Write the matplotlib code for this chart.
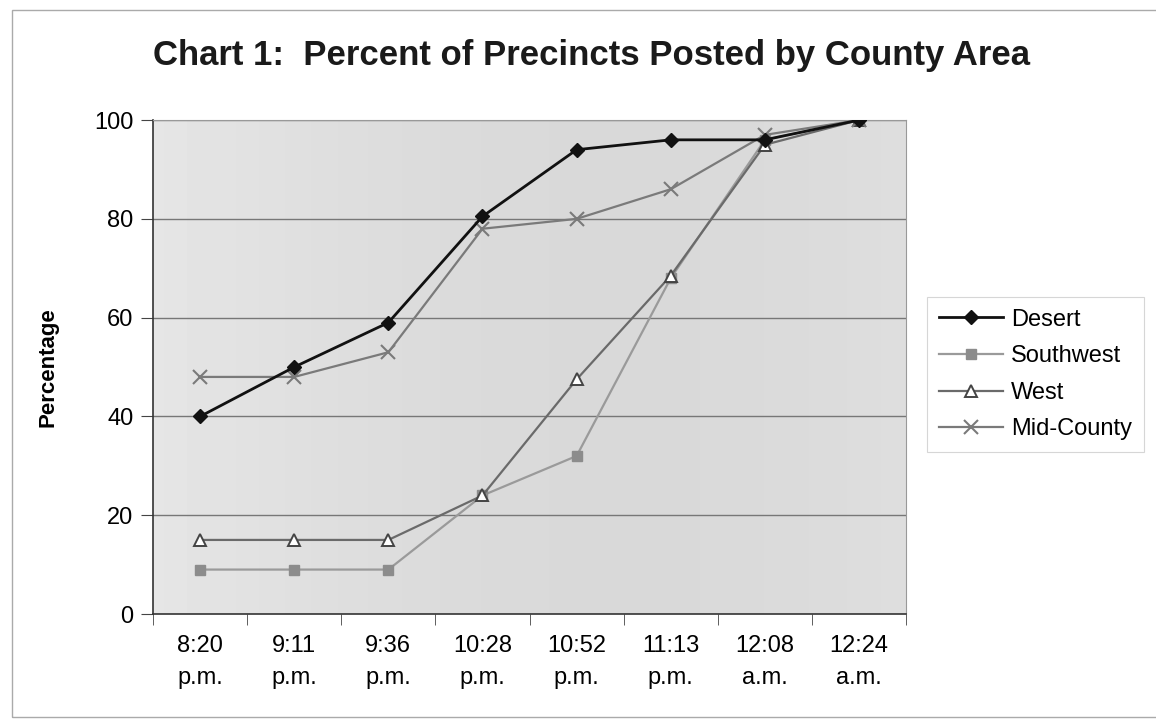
import numpy as np
import matplotlib
matplotlib.use("Agg")
import matplotlib.pyplot as plt

plt.rcParams['font.family'] = ['Liberation Sans', 'DejaVu Sans']

times = ['8:20\np.m.', '9:11\np.m.', '9:36\np.m.', '10:28\np.m.',
         '10:52\np.m.', '11:13\np.m.', '12:08\na.m.', '12:24\na.m.']
desert = [40, 50, 59, 80.5, 94, 96, 96, 100]
southwest = [9, 9, 9, 24, 32, 68, 96, 100]
west = [15, 15, 15, 24, 47.5, 68.5, 95, 100]
mid_county = [48, 48, 53, 78, 80, 86, 97, 100]

fig = plt.figure(figsize=(11.56, 7.19), dpi=100)
ax = fig.add_axes([0.1324, 0.146, 0.6514, 0.687])

x = np.arange(len(times))

# light gray background with a soft left-to-right shading
grad = np.linspace(0, 1, 200)
shade = 0.90 - 0.05 * np.sin(grad * np.pi * 0.8)
ax.imshow(np.tile(shade, (10, 1)), cmap='gray', vmin=0, vmax=1,
          extent=[-0.5, 7.5, 0, 100], aspect='auto', zorder=0)

ax.plot(x, desert, color='#111111', lw=2, marker='D', ms=7,
        mfc='#111111', mec='#111111', label='Desert', zorder=5)
ax.plot(x, southwest, color='#9a9a9a', lw=1.6, marker='s', ms=7,
        mfc='#8c8c8c', mec='#8c8c8c', label='Southwest', zorder=3)
ax.plot(x, west, color='#6a6a6a', lw=1.6, marker='^', ms=9,
        mfc='white', mec='#444444', mew=1.4, label='West', zorder=4)
ax.plot(x, mid_county, color='#7a7a7a', lw=1.6, marker='x', ms=10,
        mew=1.5, label='Mid-County', zorder=4)

ax.set_xlim(-0.5, 7.5)
ax.set_ylim(0, 100)
ax.set_yticks([0, 20, 40, 60, 80, 100])
ax.set_xticks(x)
ax.set_xticklabels(times, fontsize=17, linespacing=1.6)
ax.set_xticks(np.arange(-0.5, 8, 1), minor=True)
ax.tick_params(axis='x', which='major', length=0, pad=15)
ax.tick_params(axis='x', which='minor', length=8, direction='out', color='#444444')
ax.tick_params(axis='y', length=9, direction='out', labelsize=17, pad=5, color='#444444')

for yv in [20, 40, 60, 80, 100]:
    ax.axhline(yv, color='#777777', lw=1, zorder=1)

for side in ['top', 'right']:
    ax.spines[side].set_color('#999999')
for side in ['left', 'bottom']:
    ax.spines[side].set_color('#333333')
    ax.spines[side].set_linewidth(1.2)

ax.set_ylabel('Percentage', fontsize=16, fontweight='bold', labelpad=26)

fig.text(0.512, 0.923, 'Chart 1:  Percent of Precincts Posted by County Area',
         ha='center', va='center', fontsize=25, fontweight='bold', color='#1a1a1a')

leg = ax.legend(loc='center left', bbox_to_anchor=(1.028, 0.485), fontsize=17,
                frameon=True, fancybox=False, edgecolor='#cccccc',
                handlelength=2.7, handletextpad=0.35, labelspacing=0.62,
                borderpad=0.5, borderaxespad=0)
leg.get_frame().set_linewidth(0.8)

fig.patches.append(plt.Rectangle((0.010, 0.003), 0.995, 0.983, transform=fig.transFigure,
                                 fill=False, edgecolor='#aaaaaa', lw=1))

fig.savefig('out.png', dpi=100)
